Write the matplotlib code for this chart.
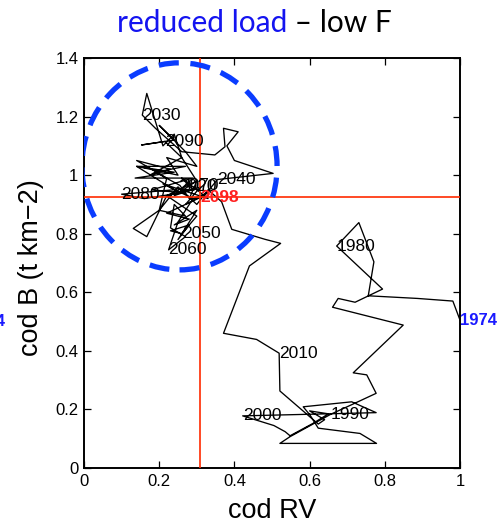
import matplotlib
matplotlib.use("Agg")
import matplotlib.pyplot as plt
from matplotlib.patches import Ellipse

# Trajectory of cod RV vs cod B, one point per year
years = list(range(1974, 2099))
cod_rv = [
    1.000, 0.981, 0.887, 0.756, 0.771, 0.731, 0.672, 0.794, 0.721, 0.676,
    0.661, 0.849, 0.716, 0.752, 0.777, 0.715, 0.657, 0.548, 0.521, 0.778,
    0.734, 0.623, 0.601, 0.583, 0.712, 0.777, 0.422, 0.505, 0.535, 0.548,
    0.610, 0.650, 0.600, 0.640, 0.623, 0.521, 0.519, 0.459, 0.371, 0.440,
    0.523, 0.481, 0.393, 0.366, 0.330, 0.300, 0.250, 0.200, 0.220, 0.140,
    0.230, 0.175, 0.260, 0.240, 0.210, 0.167, 0.155, 0.190, 0.260, 0.348,
    0.375, 0.371, 0.410, 0.380, 0.400, 0.503, 0.355, 0.320, 0.270, 0.220,
    0.280, 0.240, 0.300, 0.250, 0.280, 0.230, 0.260, 0.300, 0.220, 0.167,
    0.131, 0.200, 0.270, 0.240, 0.230, 0.270, 0.225, 0.250, 0.290, 0.210,
    0.330, 0.260, 0.290, 0.220, 0.300, 0.280, 0.255, 0.190, 0.270, 0.140,
    0.240, 0.136, 0.290, 0.180, 0.260, 0.160, 0.100, 0.240, 0.140, 0.250,
    0.220, 0.300, 0.270, 0.200, 0.240, 0.153, 0.215, 0.260, 0.300, 0.240,
    0.310, 0.270, 0.330, 0.290, 0.310,
]
cod_b = [
    0.505, 0.570, 0.579, 0.588, 0.704, 0.838, 0.758, 0.611, 0.566, 0.579,
    0.549, 0.488, 0.325, 0.318, 0.255, 0.218, 0.184, 0.107, 0.084, 0.084,
    0.118, 0.136, 0.181, 0.209, 0.226, 0.189, 0.178, 0.145, 0.124, 0.110,
    0.153, 0.185, 0.195, 0.165, 0.150, 0.263, 0.392, 0.439, 0.460, 0.690,
    0.767, 0.781, 0.815, 0.909, 0.950, 0.900, 0.960, 0.880, 0.990, 1.050,
    1.020, 1.000, 1.060, 1.140, 1.100, 1.279, 1.205, 1.160, 1.080, 1.069,
    1.097, 1.160, 1.148, 1.100, 1.050, 1.006, 0.985, 0.930, 0.900, 0.870,
    0.850, 0.830, 0.880, 0.780, 0.830, 0.810, 0.800, 0.860, 0.930, 0.790,
    0.818, 0.880, 0.860, 0.900, 0.820, 0.790, 0.745, 0.840, 0.920, 0.970,
    0.920, 0.990, 0.950, 0.930, 0.980, 0.920, 0.965, 1.010, 1.030, 1.030,
    1.010, 0.990, 0.990, 0.950, 0.940, 0.920, 0.935, 0.950, 1.030, 1.000,
    1.060, 1.030, 1.080, 1.170, 1.120, 1.103, 1.115, 1.060, 0.980, 0.930,
    0.960, 0.900, 0.940, 0.920, 0.925,
]
decade_years = [1980, 1990, 2000, 2010, 2020, 2030, 2040, 2050, 2060, 2070, 2080, 2090]
first_year = 1974
last_year = 2098

# Reference cross-hair levels
ref_rv = 0.308
ref_b = 0.925

# Highlight region (centre and extent in data units)
region_center = (0.254, 1.030)
region_size = (0.519, 0.707)

xticks = [0, 0.2, 0.4, 0.6, 0.8, 1]
xticklabels = ["0", "0.2", "0.4", "0.6", "0.8", "1"]
yticks = [0, 0.2, 0.4, 0.6, 0.8, 1, 1.2, 1.4]
yticklabels = ["0", "0.2", "0.4", "0.6", "0.8", "1", "1.2", "1.4"]

plt.rcParams["font.family"] = ["Liberation Sans", "DejaVu Sans"]

W, H = 504, 526
fig = plt.figure(figsize=(W / 100, H / 100), dpi=100)
ax = fig.add_axes([84 / W, 58 / H, 376 / W, 410 / H])

ax.plot(cod_rv, cod_b, color="black", lw=0.95, zorder=3)
ax.axvline(ref_rv, color="#ff2a00", lw=1.2, zorder=4)
ax.axhline(ref_b, color="#ff2a00", lw=1.2, zorder=4)

ell = Ellipse(region_center, region_size[0], region_size[1], fill=False,
              edgecolor="#0a3cff", lw=3.8, linestyle=(0, (3.8, 2.2)), zorder=5)
ax.add_patch(ell)

idx = {y: i for i, y in enumerate(years)}
for yr in decade_years:
    i = idx[yr]
    ax.text(cod_rv[i], cod_b[i], str(yr), fontsize=12.5, ha="left", va="center",
            color="black", zorder=6)
i = idx[last_year]
ax.text(cod_rv[i], cod_b[i], str(last_year), fontsize=12.5, fontweight="bold",
        ha="left", va="center", color="#ff2020", zorder=7)
i = idx[first_year]
ax.text(cod_rv[i], cod_b[i], str(first_year), fontsize=12, fontweight="bold",
        ha="left", va="center", color="#1a1aff", zorder=7, clip_on=False)

ax.set_xlim(0, 1)
ax.set_ylim(0, 1.4)
ax.set_xticks(xticks)
ax.set_xticklabels(xticklabels)
ax.set_yticks(yticks)
ax.set_yticklabels(yticklabels)
ax.tick_params(direction="in", length=5, width=0.9, labelsize=12,
               top=True, right=True, pad=4)
for sp in ax.spines.values():
    sp.set_linewidth(1.4)

ax.set_xlabel("cod RV", fontsize=19.5)
ax.set_ylabel("cod B (t km\u22122)", fontsize=19.5)
ax.xaxis.set_label_coords(0.5, -0.072)
ax.yaxis.set_label_coords(-0.106, 0.488)

# Neighbouring panel's start label, cut by the left edge
fig.text(5 / W, 1 - 322 / H, "1974", fontsize=12, fontweight="bold",
         color="#1a1aff", ha="right", va="center")

# Two-colour title
t1 = fig.text(117 / W, 1 - 32 / H, "reduced load", fontsize=21.5, family="Lato",
              color="#1414f0", ha="left", va="baseline")
fig.canvas.draw()
bb = t1.get_window_extent()
fig.text(bb.x1 / W, 1 - 32 / H, " \u2013 low F", fontsize=21.5, family="Lato",
         color="black", ha="left", va="baseline")

fig.savefig("out.png", dpi=100)
